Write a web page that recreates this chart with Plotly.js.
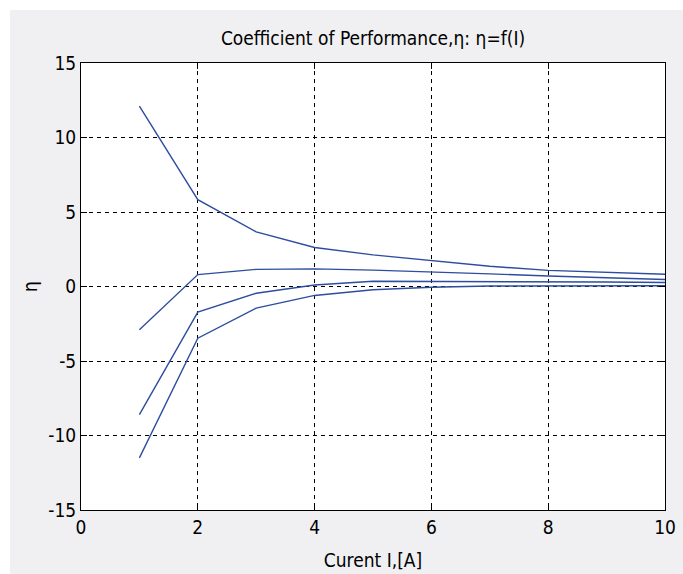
<!DOCTYPE html>
<html>
<head>
<meta charset="utf-8">
<script src="https://cdn.plot.ly/plotly-3.0.1.min.js"></script>
<style>html,body{margin:0;padding:0;background:#fff;}#chart{width:683px;height:574px;}</style>
</head>
<body>
<div id="chart"></div>
<script>
const current = [1, 2, 3, 4, 5, 6, 7, 8, 9, 10];
const eta1 = [12.1, 5.83, 3.67, 2.62, 2.12, 1.72, 1.36, 1.08, 0.95, 0.82];
const eta2 = [-2.9, 0.8, 1.15, 1.18, 1.1, 1.0, 0.85, 0.7, 0.58, 0.47];
const eta3 = [-8.6, -1.72, -0.45, 0.1, 0.35, 0.35, 0.34, 0.33, 0.3, 0.27];
const eta4 = [-11.5, -3.47, -1.45, -0.6, -0.22, -0.05, 0.03, 0.05, 0.05, 0.05];
const xTicks = [0, 2, 4, 6, 8, 10];
const yTicks = [-15, -10, -5, 0, 5, 10, 15];

const FONT = '"DejaVu Sans Condensed", "Liberation Sans", sans-serif';
const lineColor = '#2d4d9e';

const traces = [eta1, eta2, eta3, eta4].map(v => ({
  x: current, y: v, type: 'scatter', mode: 'lines',
  line: {color: lineColor, width: 1.4}, showlegend: false, hoverinfo: 'skip'
}));

const axisCommon = {
  showline: true, linecolor: '#000', linewidth: 1, mirror: 'ticks',
  ticks: 'inside', ticklen: 6, tickcolor: '#000', tickwidth: 1,
  showgrid: true, gridcolor: '#000', gridwidth: 1, griddash: '4px,4px',
  zeroline: false, tickfont: {family: FONT, size: 19, color: '#000'}
};

const layout = {
  width: 683, height: 574,
  margin: {l: 81, r: 18, t: 63, b: 64},
  paper_bgcolor: '#ffffff', plot_bgcolor: '#ffffff',
  title: {text: 'Coefficient of Performance,η: η=f(I)', x: 0.5, xref: 'paper',
    y: 1 - 38/574, yref: 'container', yanchor: 'middle',
    font: {family: FONT, size: 19, color: '#000'}},
  xaxis: Object.assign({}, axisCommon, {range: [0, 10], tickvals: xTicks, ticktext: xTicks.map(String),
    title: {text: 'Curent I,[A]', standoff: 16, font: {family: FONT, size: 19, color: '#000'}}}),
  yaxis: Object.assign({}, axisCommon, {range: [-15, 15], tickvals: yTicks, ticktext: yTicks.map(String),
    ticklabelstandoff: 0,
    title: {text: 'η', standoff: 5, font: {family: FONT, size: 19, color: '#000'}}}),
  shapes: [
    {type: 'rect', xref: 'paper', yref: 'paper', x0: -0.1216, x1: 1.05, y0: -0.16, y1: 1.1186,
      fillcolor: '#f0f0f2', line: {width: 0}, layer: 'below'},
    {type: 'rect', xref: 'paper', yref: 'paper', x0: 0, x1: 1, y0: 0, y1: 1,
      fillcolor: '#ffffff', line: {width: 0}, layer: 'below'}
  ]
};

Plotly.newPlot('chart', traces, layout, {displayModeBar: false, staticPlot: true});
</script>
</body>
</html>
